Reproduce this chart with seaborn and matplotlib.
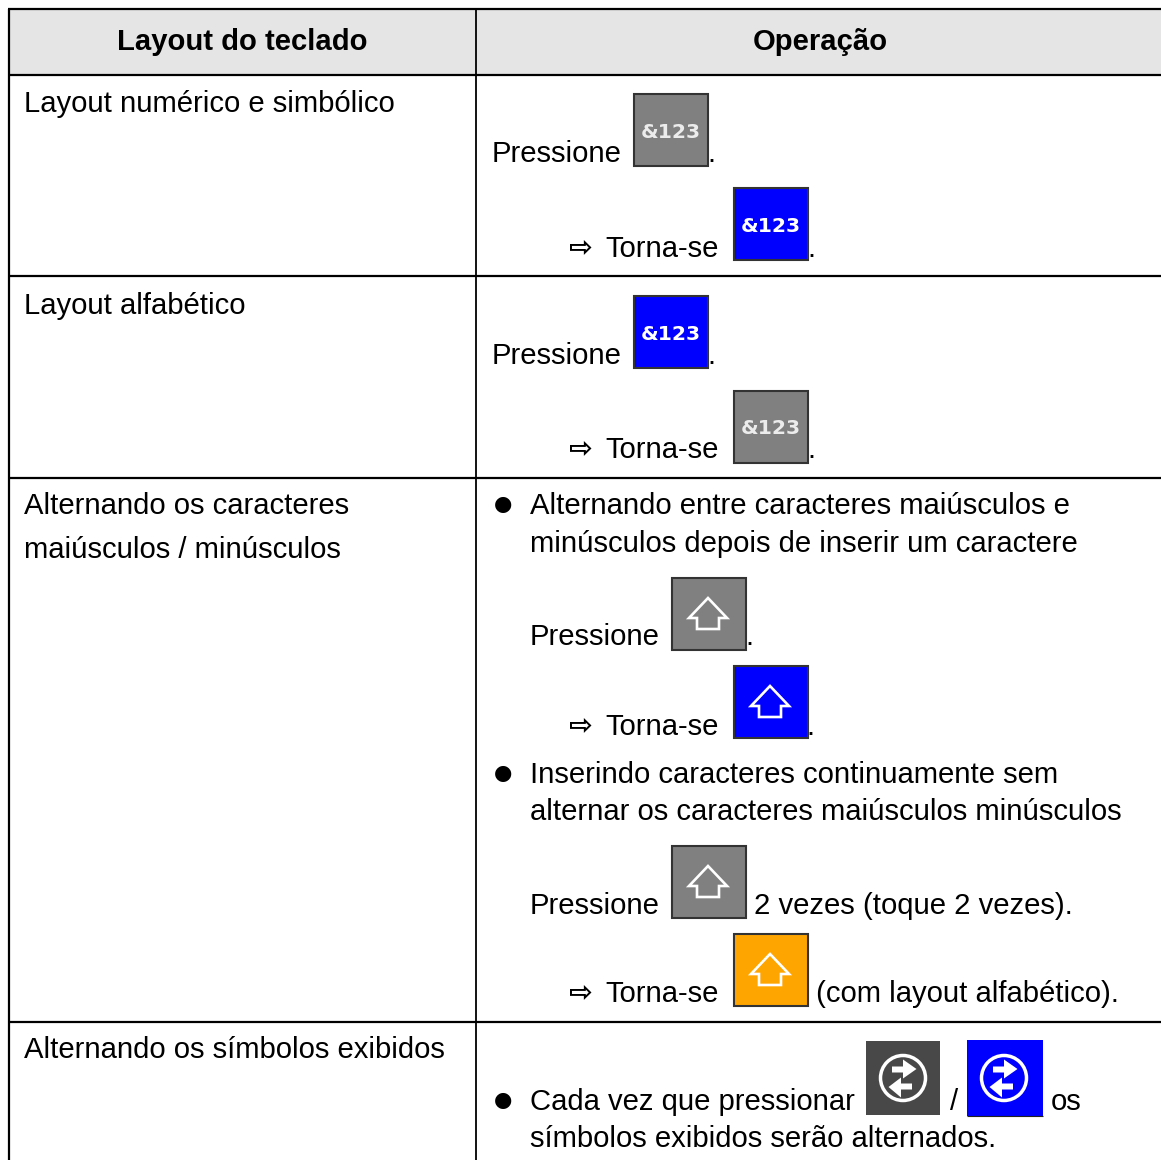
import matplotlib
matplotlib.use('Agg')
import matplotlib.pyplot as plt
from matplotlib.patches import Rectangle, Ellipse, Polygon
import seaborn as sns

# table text
headers = ['Layout do teclado', 'Operação']
layout_lines = ['Layout numérico e simbólico', 'Layout alfabético',
                'Alternando os caracteres', 'maiúsculos / minúsculos',
                'Alternando os símbolos exibidos']
bullet_lines = ['Alternando entre caracteres maiúsculos e',
                'minúsculos depois de inserir um caractere',
                'Inserindo caracteres continuamente sem',
                'alternar os caracteres maiúsculos minúsculos',
                'Cada vez que pressionar',
                'símbolos exibidos serão alternados.']
press_word = 'Pressione'
become_word = 'Torna-se'
arrow_mark = '⇨'
bullet_mark = '●'
key_label = '&123'
extra_texts = ['.', '2 vezes (toque 2 vezes).', '(com layout alfabético).', '/', 'os']

# pixel layout of the page
W, H = 1161, 1160
col_x = [9, 476]
row_y = [9, 75, 276, 478, 1022]
layout_pos = [(24, 111.5), (24, 313.5), (24, 514.5), (24, 557.5), (24, 1058.5)]
bullet_pos = [(530, 514), (530, 552), (530, 783), (530, 820), (530, 1110), (530, 1147)]
press_pos = [(492, 162), (492, 364), (530, 645), (530, 914)]
become_pos = [(605.5, 257), (605.5, 458), (605.5, 735), (605.5, 1002)]
mark_pos = [(581, 255), (581, 456), (581, 733), (581, 1000)]
dot_pos = [(503, 510), (503, 779), (503, 1106)]
extra_pos = [(707, 162), (807, 257), (707, 364), (807, 458), (745, 645), (806, 735)]
other_pos = [(754, 914), (816, 1002), (950, 1110), (1051, 1110)]
other_idx = [1, 2, 3, 4]

GRAY, BLUE, ORANGE, DARK = '#808080', '#0000ff', '#ffa500', '#484848'
key_boxes = [(633, 93, GRAY, '#ececec'), (733, 187, BLUE, 'white'),
             (633, 295, BLUE, 'white'), (733, 390, GRAY, '#ececec')]
shift_boxes = [(671, 577, GRAY), (733, 665, BLUE), (671, 845, GRAY), (733, 933, ORANGE)]
swap_boxes = [(866, 1041, DARK, 74, 74), (967, 1040, BLUE, 76, 76)]

sns.set_theme(style='white')
plt.rcParams['font.family'] = ['Liberation Sans', 'DejaVu Sans']
fs = 21.1

fig = plt.figure(figsize=(W / 100, H / 100), dpi=100)
ax = fig.add_axes([0, 0, 1, 1])
ax.set_xlim(0, W)
ax.set_ylim(H, 0)
ax.axis('off')

# table frame
ax.add_patch(Rectangle((col_x[0], row_y[0]), W - col_x[0], row_y[1] - row_y[0], fc='#e5e5e5', ec='none'))
ax.hlines(row_y, col_x[0] - 1, W, color='black', lw=1.6)
ax.vlines(col_x[0], row_y[0], H, color='black', lw=1.6)
ax.vlines(col_x[1], row_y[0], H, color='black', lw=1.3)

ax.text((col_x[0] + col_x[1]) / 2, 49.5, headers[0], ha='center', fontsize=fs, fontweight='bold', color='black')
ax.text((col_x[1] + W) / 2 + 2, 49.5, headers[1], ha='center', fontsize=fs, fontweight='bold', color='black')


def put(txt, pos, **kw):
    ax.text(pos[0], pos[1], txt, ha=kw.pop('ha', 'left'), va='baseline', fontsize=kw.pop('fontsize', fs), color='black', **kw)


for t, p in zip(layout_lines, layout_pos):
    put(t, p)
for t, p in zip(bullet_lines, bullet_pos):
    put(t, p)
for p in press_pos:
    put(press_word, p)
for p in become_pos:
    put(become_word, p)
for p in mark_pos:
    put(arrow_mark, p, ha='center', fontsize=20.5, family='DejaVu Sans', fontweight='bold')
for p in dot_pos:
    put(bullet_mark, p, ha='center', fontsize=15.2, family='DejaVu Sans')
for p in extra_pos:
    put(extra_texts[0], p)
for i, p in zip(other_idx, other_pos):
    put(extra_texts[i], p)


def button(x, y, fill, w=75, h=73, edge='#333333'):
    if edge == 'none':
        ax.add_patch(Rectangle((x, y), w, h, fc=fill, ec='none'))
    else:
        ax.add_patch(Rectangle((x + 0.75, y + 0.75), w - 0.75, h - 0.75, fc=fill, ec=edge, lw=1.5))


for x, y, fill, tc in key_boxes:
    button(x, y, fill)
    ax.text(x + 37.5, y + 39, key_label, ha='center', va='center', fontsize=14.6,
            fontweight='bold', color=tc, family='DejaVu Sans')

shift_shape = [(37, 21), (56, 41), (48, 41), (48, 52), (26, 52), (26, 41), (18, 41)]
for x, y, fill in shift_boxes:
    button(x, y, fill)
    ax.add_patch(Polygon([(x + a, y + b) for a, b in shift_shape], closed=True, fc='none', ec='white', lw=1.9))

for x, y, fill, w, h in swap_boxes:
    button(x, y, fill, w, h, edge='none')
    cx, cy = x + 37, 1078
    ax.add_patch(Ellipse((cx, cy), 45, 45, fc='none', ec='white', lw=2.5))
    top = [(-11, -11.5), (0, -11.5), (0, -18.5), (13.5, -9), (0, 0.5), (0, -5.5), (-11, -5.5)]
    bot = [(9, 5.5), (-2, 5.5), (-2, -0.5), (-14.5, 9), (-2, 19.5), (-2, 11.5), (9, 11.5)]
    ax.add_patch(Polygon([(cx + a, cy + b) for a, b in top], closed=True, fc='white', ec='none'))
    ax.add_patch(Polygon([(cx + a, cy + b) for a, b in bot], closed=True, fc='white', ec='none'))

ax.hlines(1115.5, 967, 1043, color='#222222', lw=0.8)

fig.savefig('out.png', dpi=100)
